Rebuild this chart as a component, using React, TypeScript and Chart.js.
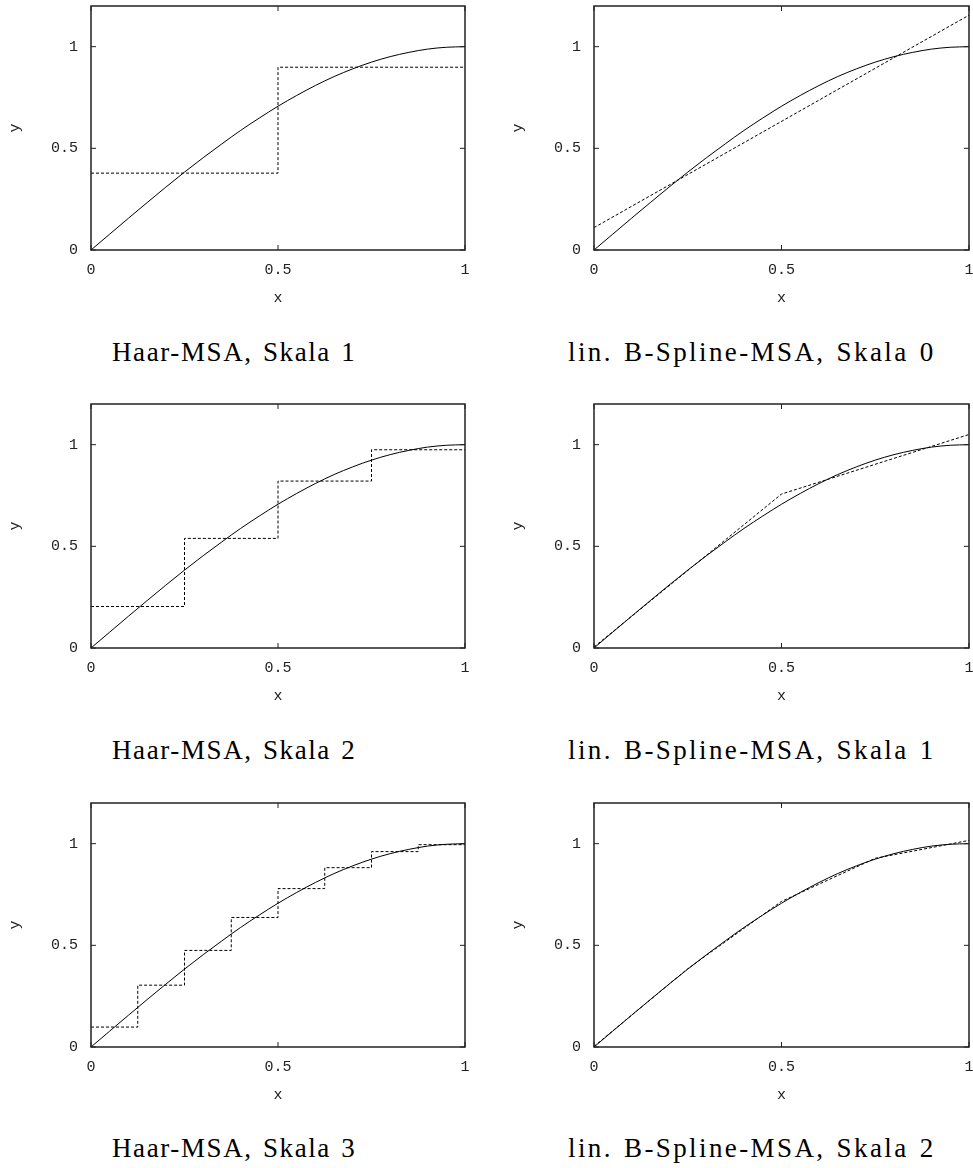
import React, { useEffect, useRef } from "react";
import { Chart, registerables } from "chart.js";

Chart.register(...registerables);

// ---- data ----
const curveX = [0, 0.05, 0.1, 0.15, 0.2, 0.25, 0.3, 0.35, 0.4, 0.45, 0.5, 0.55, 0.6, 0.65, 0.7, 0.75, 0.8, 0.85, 0.9, 0.95, 1];
const curveY = [0, 0.078, 0.156, 0.233, 0.309, 0.383, 0.454, 0.522, 0.588, 0.649, 0.707, 0.76, 0.809, 0.853, 0.891, 0.924, 0.951, 0.972, 0.988, 0.997, 1.0];

const haar1Knots = [0, 0.5, 1];
const haar1Values = [0.378, 0.899];
const haar2Knots = [0, 0.25, 0.5, 0.75, 1];
const haar2Values = [0.204, 0.539, 0.821, 0.975];
const haar3Knots = [0, 0.125, 0.25, 0.375, 0.5, 0.625, 0.75, 0.875, 1];
const haar3Values = [0.098, 0.304, 0.475, 0.637, 0.779, 0.882, 0.961, 0.995];

const spline0Knots = [0, 1];
const spline0Values = [0.11, 1.155];
const spline1Knots = [0, 0.5, 1];
const spline1Values = [0.005, 0.757, 1.05];
const spline2Knots = [0, 0.25, 0.5, 0.75, 1];
const spline2Values = [0.003, 0.385, 0.716, 0.928, 1.016];

const xTickValues = [0, 0.5, 1];
const xTickLabels = ["0", "0.5", "1"];
const yTickValues = [0, 0.5, 1];
const yTickLabels = ["0", "0.5", "1"];

const panelTitles = [
  "Haar-MSA, Skala 1",
  "lin. B-Spline-MSA, Skala 0",
  "Haar-MSA, Skala 2",
  "lin. B-Spline-MSA, Skala 1",
  "Haar-MSA, Skala 3",
  "lin. B-Spline-MSA, Skala 2",
];

type Approx = { kind: "haar" | "spline"; knots: number[]; values: number[] };
const approximations: Approx[] = [
  { kind: "haar", knots: haar1Knots, values: haar1Values },
  { kind: "spline", knots: spline0Knots, values: spline0Values },
  { kind: "haar", knots: haar2Knots, values: haar2Values },
  { kind: "spline", knots: spline1Knots, values: spline1Values },
  { kind: "haar", knots: haar3Knots, values: haar3Values },
  { kind: "spline", knots: spline2Knots, values: spline2Values },
];

const MONO = "'Liberation Mono', monospace";
const INK = "#222";

const frameTicks = {
  id: "frameTicks",
  afterDatasetsDraw(chart: any) {
    const { ctx, chartArea: a, scales } = chart;
    ctx.save();
    ctx.strokeStyle = INK;
    ctx.lineWidth = 1;
    ctx.beginPath();
    const L = 5;
    for (const v of xTickValues) {
      const px = scales.x.getPixelForValue(v);
      ctx.moveTo(px, a.bottom);
      ctx.lineTo(px, a.bottom - L);
      ctx.moveTo(px, a.top);
      ctx.lineTo(px, a.top + L);
    }
    for (const v of yTickValues) {
      const py = scales.y.getPixelForValue(v);
      ctx.moveTo(a.left, py);
      ctx.lineTo(a.left + L, py);
      ctx.moveTo(a.right, py);
      ctx.lineTo(a.right - L, py);
    }
    ctx.stroke();
    ctx.lineWidth = 1.5;
    ctx.strokeRect(a.left, a.top, a.right - a.left, a.bottom - a.top);
    ctx.restore();
  },
};

function buildApproxData(ap: Approx) {
  if (ap.kind === "haar") {
    const pts = ap.values.map((v, i) => ({ x: ap.knots[i], y: v }));
    pts.push({ x: ap.knots[ap.knots.length - 1], y: ap.values[ap.values.length - 1] });
    return pts;
  }
  return ap.values.map((v, i) => ({ x: ap.knots[i], y: v }));
}

function Panel({ index, left, top, width, padRight }: { index: number; left: number; top: number; width: number; padRight: number }) {
  const ref = useRef<HTMLCanvasElement | null>(null);
  useEffect(() => {
    if (!ref.current) return;
    const ap = approximations[index];
    const chart = new Chart(ref.current, {
      type: "line",
      data: {
        datasets: [
          {
            data: curveX.map((x, i) => ({ x, y: curveY[i] })),
            borderColor: "#000",
            borderWidth: 1,
            pointRadius: 0,
            fill: false,
            cubicInterpolationMode: "monotone",
          },
          {
            data: buildApproxData(ap),
            borderColor: "#000",
            borderWidth: 1,
            borderDash: [3, 2],
            pointRadius: 0,
            fill: false,
            stepped: ap.kind === "haar" ? "before" : false,
            tension: 0,
          },
        ],
      },
      options: {
        responsive: false,
        animation: false,
        events: [],
        layout: { padding: { top: 6, right: padRight, left: 0, bottom: 0 } },
        plugins: { legend: { display: false }, tooltip: { enabled: false }, title: { display: false } },
        scales: {
          x: {
            type: "linear",
            min: 0,
            max: 1,
            grid: { display: false, drawTicks: false },
            border: { display: false },
            afterBuildTicks: (s: any) => {
              s.ticks = xTickValues.map((v) => ({ value: v }));
            },
            ticks: {
              padding: 11,
              maxRotation: 0,
              autoSkip: false,
              color: INK,
              font: { family: MONO, size: 15 },
              callback: (_v: any, i: number) => xTickLabels[i],
            },
            title: { display: true, text: "x", color: INK, font: { family: MONO, size: 15 }, padding: { top: 0, bottom: 3 } },
            afterFit: (s: any) => {
              s.height = 60;
              s.paddingLeft = 0;
              s.paddingRight = 0;
            },
          },
          y: {
            type: "linear",
            min: 0,
            max: 1.2,
            grid: { display: false, drawTicks: false },
            border: { display: false },
            afterBuildTicks: (s: any) => {
              s.ticks = yTickValues.map((v) => ({ value: v }));
            },
            ticks: {
              padding: 13,
              autoSkip: false,
              color: INK,
              font: { family: MONO, size: 15 },
              callback: (_v: any, i: number) => yTickLabels[i],
            },
            title: { display: true, text: "y", color: INK, font: { family: MONO, size: 15 }, padding: { top: 6, bottom: 0 } },
            afterFit: (s: any) => {
              s.width = 91;
              s.paddingTop = 0;
              s.paddingBottom = 0;
            },
          },
        },
      },
      plugins: [frameTicks],
    } as any);
    return () => chart.destroy();
  }, [index]);
  return (
    <canvas
      ref={ref}
      width={width}
      height={310}
      style={{ position: "absolute", left, top, width, height: 310 }}
    />
  );
}

export default function App() {
  const rowTops = [0, 398, 797];
  const titleTops = [339, 737, 1135];
  const cols = [
    { left: 0, width: 480, padRight: 15, titleLeft: 112, spacing: 1.6 },
    { left: 503, width: 470, padRight: 4, titleLeft: 568, spacing: 2.4 },
  ];
  return (
    <div style={{ position: "absolute", left: 0, top: 0, width: 973, height: 1168, background: "#fff", overflow: "hidden" }}>
      {rowTops.map((top, r) =>
        cols.map((c, ci) => {
          const idx = r * 2 + ci;
          return (
            <React.Fragment key={idx}>
              <Panel index={idx} left={c.left} top={top} width={c.width} padRight={c.padRight} />
              <div
                style={{
                  position: "absolute",
                  left: c.titleLeft,
                  top: titleTops[r],
                  fontFamily: "'Liberation Serif', serif",
                  fontSize: 27,
                  lineHeight: "27px",
                  letterSpacing: c.spacing,
                  wordSpacing: 2,
                  color: "#000",
                  whiteSpace: "nowrap",
                }}
              >
                {panelTitles[idx]}
              </div>
            </React.Fragment>
          );
        })
      )}
    </div>
  );
}
